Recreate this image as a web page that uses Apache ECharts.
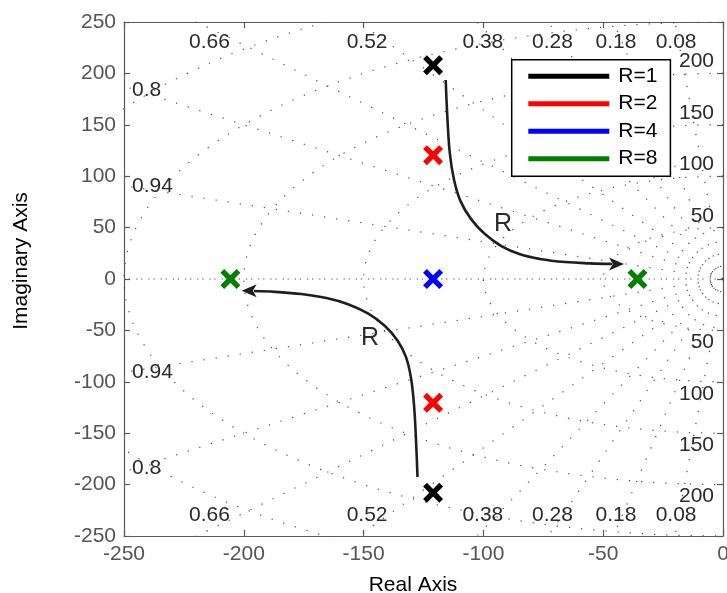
<!DOCTYPE html>
<html><head><meta charset="utf-8">
<script src="https://cdn.jsdelivr.net/npm/echarts@6/dist/echarts.min.js"></script>
<style>html,body{margin:0;padding:0;background:#fff}#c{width:727px;height:593px}</style>
</head><body><div id="c"></div>
<script>
// ---- data ----
const seriesNames = ['R=1', 'R=2', 'R=4', 'R=8'];
const polesR1 = [[-121, 208], [-121, -208]];
const polesR2 = [[-121, 120.5], [-121, -120.5]];
const polesR4 = [[-121, 0]];
const polesR8 = [[-205.6, 0], [-35.7, 0]];
const zetaTop = [0.08, 0.18, 0.28, 0.38, 0.52, 0.66];
const zetaSide = [0.8, 0.94];
const wnCircles = [50, 100, 150, 200, 250, 300];
const wnLabels = [50, 100, 150, 200];
const arrowTop = [[-115.73, 193.58], [-114.98, 154.67], [-114.0, 122.0], [-112.3, 97.0], [-109.6, 76.0],
  [-105.2, 58.5], [-99.5, 44.0], [-92.5, 32.0], [-84.7, 24.0], [-76.4, 19.5], [-65.9, 16.5],
  [-55.5, 15.2], [-46.33, 14.6]];
const arrowTopTip = [-41.3, 14.6];
const arrowBottom = [[-127.5, -192.61], [-128.13, -156.61], [-128.96, -122.57], [-130.22, -96.3], [-132.3, -76.0],
  [-135.8, -60.0], [-141.2, -45.5], [-148.2, -33.5], [-156.5, -24.5], [-165.5, -18.5],
  [-176.0, -14.6], [-187.0, -12.5], [-195.74, -11.7]];
const arrowBottomTip = [-200.9, -11.5];
const rText = ['R', 'R'];
const rTextPos = [[-91.8, 53], [-147.3, -57.4]];

// ---- styles ----
const colors = ['#000000', '#ff0000', '#0000ff', '#008000'];
const FONT = 'Liberation Sans, Arial, Helvetica, sans-serif';
const AX = '#5a5a5a';
const GRIDC = '#4a4a4a';
const X_PATH = 'path://M1.9,0 L5,3.1 L8.1,0 L10,1.9 L6.9,5 L10,8.1 L8.1,10 L5,6.9 L1.9,10 L0,8.1 L3.1,5 L0,1.9 Z';

const chart = echarts.init(document.getElementById('c'), null, {renderer: 'canvas'});
const series = [];
const dotted = {color: GRIDC, width: 1.2, type: [1.2, 11]};

// damping rays
[...zetaTop, ...zetaSide].forEach(z => {
  const s = Math.sqrt(1 - z * z);
  [1, -1].forEach(sg => series.push({
    type: 'line', silent: true, symbol: 'none', z: 1, animation: false,
    data: [[0, 0], [-400 * z, sg * 400 * s]], lineStyle: dotted
  }));
});
// real axis (zeta = 1)
series.push({type: 'line', silent: true, symbol: 'none', z: 1, animation: false,
  data: [[0, 0], [-400, 0]], lineStyle: {color: GRIDC, width: 1.2, type: [1.2, 11]}});
series.push({type: 'line', silent: true, symbol: 'none', z: 1, animation: false,
  data: [[0, 0], [-400, 0]], lineStyle: {color: GRIDC, width: 1.2, type: [1.2, 11], dashOffset: 5}});
// natural frequency circles
wnCircles.forEach(w => {
  const pts = [];
  for (let a = 90; a <= 270; a += 1) {
    const r = a * Math.PI / 180;
    pts.push([w * Math.cos(r), w * Math.sin(r)]);
  }
  series.push({type: 'line', silent: true, symbol: 'none', z: 1, animation: false,
    data: pts, lineStyle: dotted});
});

// grid labels
const lblStyle = {show: true, color: '#2b2b2b', fontSize: 21, fontFamily: FONT, formatter: '{b}', opacity: 1};
const invisible = {symbol: 'circle', symbolSize: 1, itemStyle: {color: 'rgba(0,0,0,0)', opacity: 1}, silent: true, z: 5, animation: false};
const topZ = zetaTop.map(z => ({value: [-244 * z / Math.sqrt(1 - z * z), 244], name: String(z)}));
const botZ = zetaTop.map(z => ({value: [-244 * z / Math.sqrt(1 - z * z), -244], name: String(z)}));
series.push(Object.assign({type: 'scatter', data: topZ,
  label: Object.assign({}, lblStyle, {position: 'inside', offset: [0, 14.5]})}, invisible));
series.push(Object.assign({type: 'scatter', data: botZ,
  label: Object.assign({}, lblStyle, {position: 'inside', offset: [0, -14.5]})}, invisible));
const sideTop = zetaSide.map(z => ({value: [-241, 241 * Math.sqrt(1 - z * z) / z], name: String(z)}));
const sideBot = zetaSide.map(z => ({value: [-241, -241 * Math.sqrt(1 - z * z) / z], name: String(z)}));
series.push(Object.assign({type: 'scatter', data: sideTop,
  label: Object.assign({}, lblStyle, {position: 'inside', align: 'left', offset: [-13.6, -3]})}, invisible));
series.push(Object.assign({type: 'scatter', data: sideBot,
  label: Object.assign({}, lblStyle, {position: 'inside', align: 'left', offset: [-13.6, 3]})}, invisible));
const wTop = wnLabels.map(w => ({value: [0, w], name: String(w)}));
const wBot = wnLabels.map(w => ({value: [0, -w], name: String(w)}));
series.push(Object.assign({type: 'scatter', data: wTop,
  label: Object.assign({}, lblStyle, {position: 'inside', align: 'right', offset: [-9, -11.8]})}, invisible));
series.push(Object.assign({type: 'scatter', data: wBot,
  label: Object.assign({}, lblStyle, {position: 'inside', align: 'right', offset: [-9, 12]})}, invisible));

// arrows
const arrowLine = {color: '#1e1e1e', width: 2.6};
series.push({type: 'line', data: arrowTop, smooth: 0.4, symbol: 'none', lineStyle: arrowLine, z: 3, silent: true, animation: false});
series.push({type: 'line', data: arrowBottom, smooth: 0.4, symbol: 'none', lineStyle: arrowLine, z: 3, silent: true, animation: false});
series.push({type: 'scatter', data: [arrowTopTip], symbol: 'path://M0,0 L10,5 L0,10 L2.5,5 Z',
  symbolSize: [15, 13], symbolOffset: [-7.5, 0], itemStyle: {color: '#1e1e1e', opacity: 1}, z: 3, silent: true, animation: false});
series.push({type: 'scatter', data: [arrowBottomTip], symbol: 'path://M10,0 L0,5 L10,10 L7.5,5 Z',
  symbolSize: [15, 13], symbolOffset: [7.5, 0], itemStyle: {color: '#1e1e1e', opacity: 1}, z: 3, silent: true, animation: false});
series.push({type: 'scatter', data: rTextPos.map((p, i) => ({value: p, name: rText[i]})),
  symbol: 'circle', symbolSize: 1, itemStyle: {color: 'rgba(0,0,0,0)', opacity: 1}, z: 5, silent: true, animation: false,
  label: {show: true, position: 'inside', formatter: '{b}', color: '#2b2b2b', fontSize: 25, fontFamily: FONT}});

// poles
[polesR1, polesR2, polesR4, polesR8].forEach((d, i) => series.push({
  type: 'scatter', name: seriesNames[i], data: d, symbol: X_PATH, symbolSize: 20,
  itemStyle: {color: colors[i], opacity: 1}, z: 6, animation: false
}));

const axisCommon = {
  type: 'value', axisLine: {show: true, onZero: false, lineStyle: {color: AX, width: 1.2}},
  axisTick: {show: true, inside: true, length: 6, lineStyle: {color: AX, width: 1.2}},
  splitLine: {show: false}
};
chart.setOption({
  backgroundColor: '#fff',
  animation: false,
  grid: {left: 124, right: 4, top: 22, bottom: 57, outerBoundsMode: 'none', containLabel: false},
  legend: {
    data: seriesNames.map(n => ({name: n, icon: 'rect'})),
    orient: 'vertical', left: 511.7, top: 59.7,
    itemWidth: 81, itemHeight: 5, itemGap: 6.5,
    padding: [6, 13, 7, 16.6],
    borderColor: '#000', borderWidth: 1.5, backgroundColor: '#fff',
    textStyle: {fontSize: 21, fontFamily: FONT, color: '#000', lineHeight: 21, padding: [0, 0, 0, 4]}
  },
  xAxis: [
    Object.assign({}, axisCommon, {min: -250, max: 0, interval: 50, position: 'bottom',
      axisLabel: {fontSize: 21, fontFamily: FONT, color: '#555', margin: 8, showMinLabel: true, showMaxLabel: true},
      name: 'Real Axis', nameLocation: 'middle', nameGap: 39,
      nameTextStyle: {fontSize: 21, fontFamily: FONT, color: '#000', padding: [0, 21, 0, 0]}}),
    Object.assign({}, axisCommon, {min: -250, max: 0, interval: 50, position: 'top', axisLabel: {show: false}})
  ],
  yAxis: [
    Object.assign({}, axisCommon, {min: -250, max: 250, interval: 50, position: 'left',
      axisLabel: {fontSize: 21, fontFamily: FONT, color: '#555', margin: 8, showMinLabel: true, showMaxLabel: true},
      name: 'Imaginary Axis', nameLocation: 'middle', nameGap: 92,
      nameTextStyle: {fontSize: 21, fontFamily: FONT, color: '#000', padding: [0, 0, 0, 36]}}),
    Object.assign({}, axisCommon, {min: -250, max: 250, interval: 50, position: 'right', axisLabel: {show: false}})
  ],
  series: series
});
</script></body></html>
